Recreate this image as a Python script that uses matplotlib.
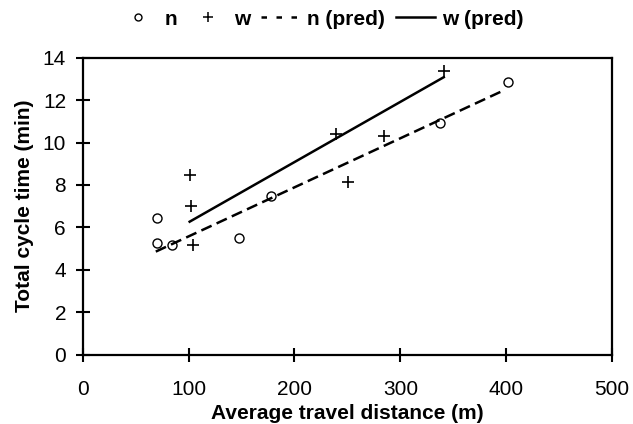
import matplotlib.pyplot as plt
from matplotlib.lines import Line2D

plt.rcParams['font.family'] = ['Liberation Sans', 'DejaVu Sans']

# observed cycle times
n_dist = [70, 70, 84, 148, 178, 337, 402]
n_time = [6.45, 5.27, 5.16, 5.52, 7.5, 10.92, 12.83]
w_dist = [101, 102, 104, 239, 251, 285, 341]
w_time = [8.48, 7.03, 5.17, 10.41, 8.15, 10.32, 13.35]

# fitted lines
n_pred_dist = [69, 399]
n_pred_time = [4.86, 12.49]
w_pred_dist = [101, 341]
w_pred_time = [6.27, 13.08]

fig = plt.figure(figsize=(6.33, 4.24), dpi=100)
ax = fig.add_axes([0.1307, 0.1634, 0.8363, 0.7006])

p_n, = ax.plot(n_dist, n_time, 'o', mfc='none', mec='black', ms=6.5, mew=1.0)
p_w, = ax.plot(w_dist, w_time, '+', color='black', ms=8, mew=1.2)
ax.plot(n_pred_dist, n_pred_time, color='black', lw=1.8, ls=(0, (4.5, 2.2)))
l_w, = ax.plot(w_pred_dist, w_pred_time, color='black', lw=1.8, ls='-')

ax.set_xlim(0, 500)
ax.set_ylim(0, 14)
ax.set_xticks(range(0, 501, 100))
ax.set_yticks(range(0, 15, 2))
ax.tick_params(direction='inout', length=10, width=1.5, labelsize=15)
ax.tick_params(axis='x', pad=13)
ax.tick_params(axis='y', pad=7)
for s in ax.spines.values():
    s.set_linewidth(1.6)

ax.set_xlabel('Average travel distance (m)', fontsize=15, fontweight='bold', labelpad=4)
ax.set_ylabel('Total cycle time (min)', fontsize=15, fontweight='bold', labelpad=6)

# legend handles: smaller markers, sparse dashes
h_n = Line2D([], [], ls='none', marker='o', mfc='none', mec='black', ms=5, mew=1.0)
h_w = Line2D([], [], ls='none', marker='+', color='black', ms=7, mew=1.1)
h_np = Line2D([], [], color='black', lw=1.8, ls=(0, (2.2, 3.8)))
ax.legend([h_n, h_w, h_np, l_w], ['n', 'w', 'n (pred)', 'w (pred)'],
          loc='lower center', bbox_to_anchor=(0.45, 1.07), ncol=4, frameon=False,
          prop={'size': 15, 'weight': 'bold'}, handlelength=1.9, handletextpad=0.33,
          columnspacing=0.5, borderaxespad=0)

fig.savefig('out.png', dpi=100)
